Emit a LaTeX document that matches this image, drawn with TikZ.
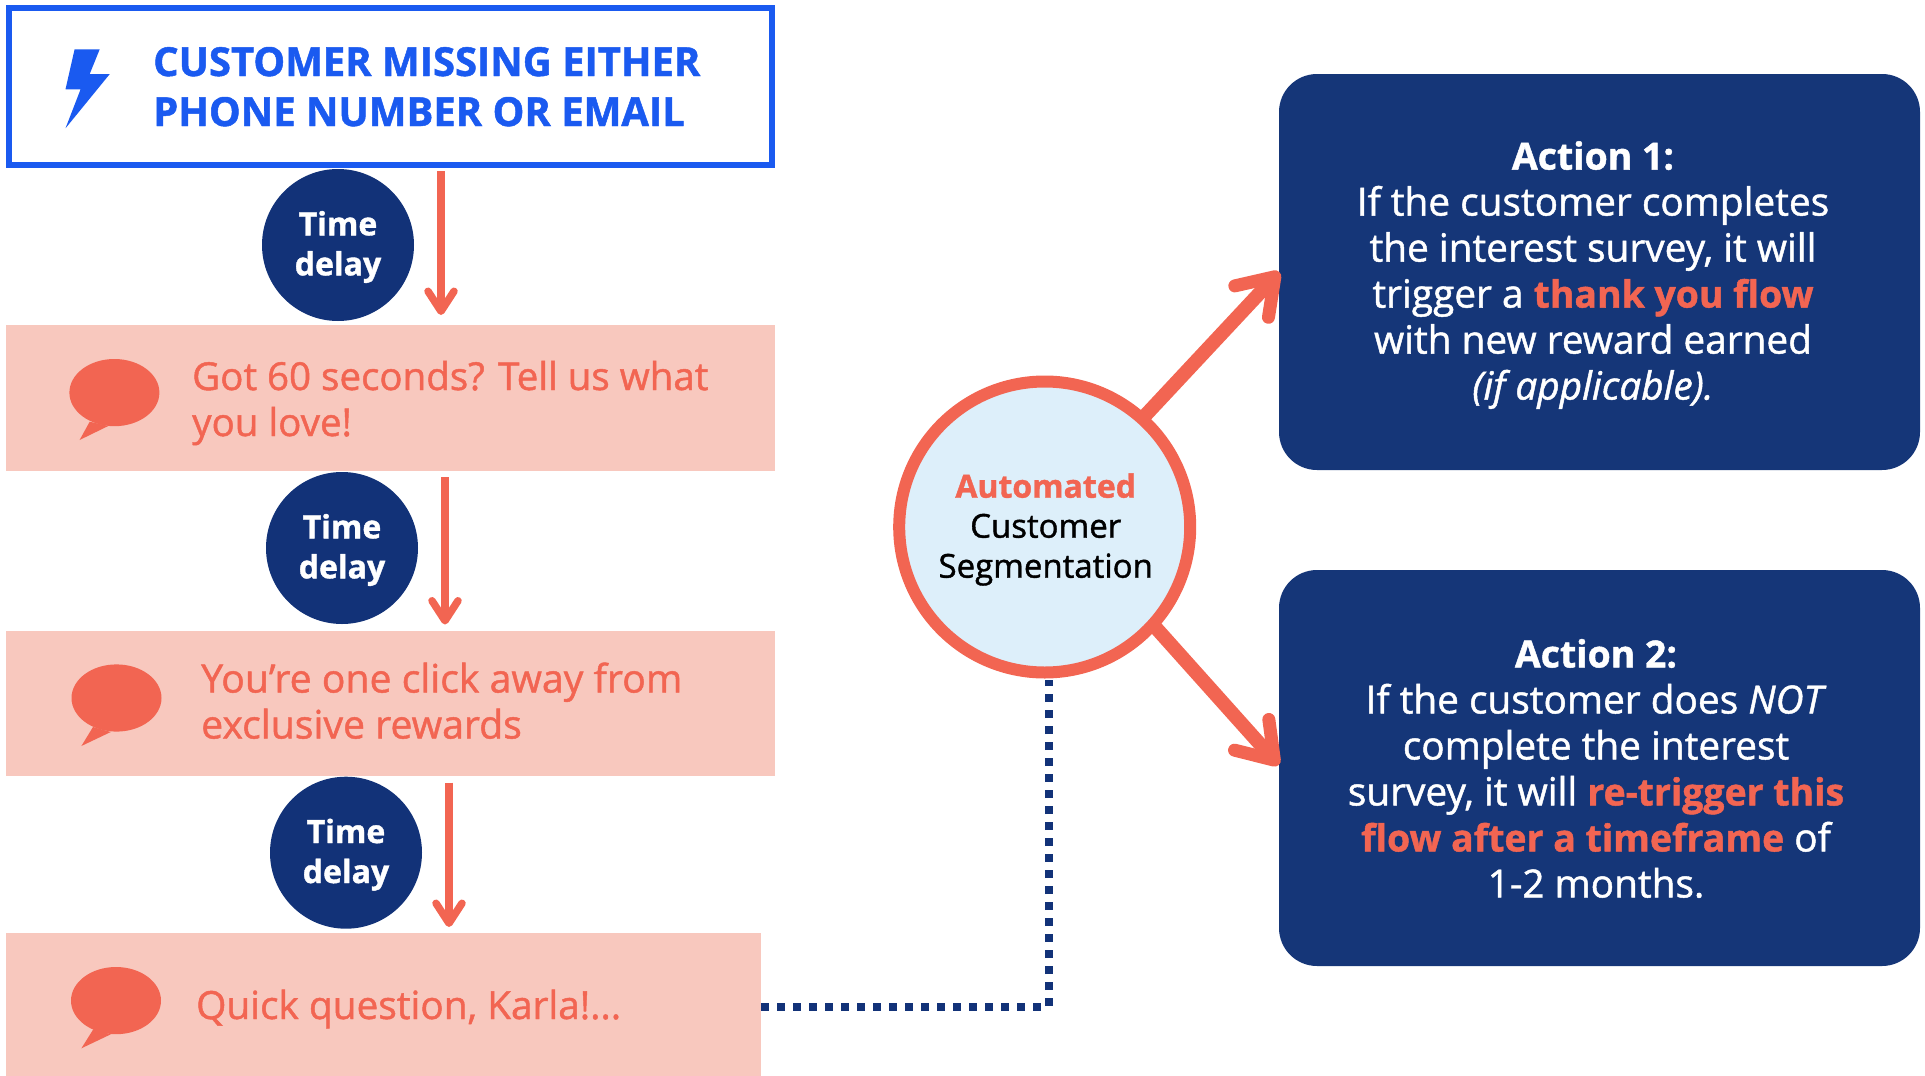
\documentclass[tikz,border=0pt]{standalone}
\usepackage{fontspec}
\setmainfont{Open Sans}[FakeBold=1.2]
\usetikzlibrary{arrows.meta,shapes.geometric}
\definecolor{navy}{HTML}{123278}
\definecolor{actnavy}{HTML}{153678}
\definecolor{coral}{HTML}{F26552}
\definecolor{pinkbg}{HTML}{F8C8BE}
\definecolor{trigblue}{HTML}{1A5AF0}
\definecolor{paleblue}{HTML}{DDEFFA}
\newcommand{\headbit}[1]{{\fontsize{37.4}{46}\selectfont\bfseries #1}}
\newcommand{\hotbit}[1]{\textcolor{coral}{\headbit{#1}}}
\tikzset{
  triggerbox/.style={draw=trigblue,line width=6pt,fill=white,rectangle,inner sep=0pt,outer sep=0pt},
  msgbox/.style={fill=pinkbg,rectangle,inner sep=0pt,outer sep=0pt},
  delaydot/.style={circle,fill=navy,minimum size=152pt,inner sep=0pt},
  delaytext/.style={text=white,inner sep=0pt,align=center,font=\fontsize{32}{40}\selectfont\bfseries},
  msgtext/.style={text=coral,align=left,anchor=base west,inner sep=0pt,font=\fontsize{38.5}{46}\selectfont},
  actionbox/.style={fill=actnavy,rounded corners=38pt,rectangle,inner sep=0pt,outer sep=0pt},
  actiontext/.style={text=white,align=center,inner sep=0pt,font=\fontsize{38.8}{46}\selectfont},
  segcircle/.style={circle,draw=coral,line width=12pt,fill=paleblue,minimum size=291pt,inner sep=0pt,outer sep=0pt},
  segtext/.style={align=center,inner sep=0pt,font=\fontsize{33}{40}\selectfont},
  delayarrow/.style={draw=coral,line width=8pt,-{Straight Barb[length=20pt,width=26pt,round,line width=7.5pt]}},
  bigarrow/.style={draw=coral,line width=14pt,-{Straight Barb[length=34pt,width=46pt,round,line width=13pt]}},
  dotline/.style={draw=navy,line width=8pt,dash pattern=on 8pt off 8pt},
  bubble/.style={fill=coral,draw=none},
}
\newcommand{\speech}[5]{%
  \fill[bubble] (#1,#2) ellipse [x radius=45,y radius=33.6];
  \fill[bubble] (#3) -- (#4) -- (#5) -- cycle;
}
\begin{document}
\begin{tikzpicture}[x=1pt,y=-1pt]
\useasboundingbox (0,0) rectangle (1925,1076);
% trigger
\node[triggerbox,minimum width=763pt,minimum height=157pt] (trigger) at (390.5,86.5) {};
\fill[trigblue] (74.6,49.3) -- (99.7,49.3) -- (89.7,74) -- (109.8,74) -- (65.5,128.3) -- (80.6,89.3) -- (65.5,89.3) -- cycle;
\node[anchor=base west,inner sep=0pt,align=left,text=trigblue,font=\fontsize{40}{50}\selectfont\bfseries] (trigtext) at (153,126) {CUSTOMER MISSING EITHER\\PHONE NUMBER OR EMAIL};
% messages
\node[msgbox,minimum width=769pt,minimum height=146pt] (msg1) at (390.5,398) {};
\node[msgbox,minimum width=769pt,minimum height=145pt] (msg2) at (390.5,703) {};
\node[msgbox,minimum width=755pt,minimum height=143pt] (msg3) at (383.5,1004.5) {};
\speech{114.4}{392.6}{89.7,421.7}{79.6,440}{108.3,426}
\speech{116.5}{698}{93,727}{81.4,746}{110.8,732}
\speech{116}{1000.6}{93.3,1029.3}{81.4,1048.3}{110.8,1034.3}
\node[msgtext] (m1) at (192,436) {Got 60 seconds? Tell us what\\you love!};
\node[msgtext,font=\fontsize{39.2}{46}\selectfont] (m2) at (201,738.5) {You’re one click away from\\exclusive rewards};
\node[msgtext,font=\fontsize{38.8}{46}\selectfont] (m3) at (196,1019) {Quick question, Karla!...};
% delays
\node[delaydot] (d1) at (338,245) {};
\node[delaydot] (d2) at (342,548) {};
\node[delaydot] (d3) at (346,852.7) {};
\node[delaytext] (dt1) at (338,247) {Time\\delay};
\node[delaytext] (dt2) at (342,550) {Time\\delay};
\node[delaytext] (dt3) at (346,854.7) {Time\\delay};
\draw[delayarrow,shorten <=6pt,shorten >=10pt] ([xshift=50.5pt]trigger.south) -- ([xshift=50.5pt]msg1.north);
\draw[delayarrow,shorten <=6pt,shorten >=6pt] ([xshift=54.5pt]msg1.south) -- ([xshift=54.5pt]msg2.north);
\draw[delayarrow,shorten <=7pt,shorten >=6pt] ([xshift=58.5pt]msg2.south) -- ([xshift=65.5pt]msg3.north);
% actions
\node[actionbox,minimum width=641pt,minimum height=396pt] (act1) at (1599.5,272) {};
\node[actionbox,minimum width=641pt,minimum height=396pt] (act2) at (1599.5,768) {};
\node[actiontext] (t1) at (1593,275) {\headbit{Action 1:}\\If the customer completes\\the interest survey, it will\\trigger a \hotbit{thank you flow}\\with new reward earned\\\textit{(if applicable).}};
\node[actiontext] (t2) at (1596,768.5) {\headbit{Action 2:}\\If the customer does \textit{NOT}\\complete the interest\\survey, it will \hotbit{re-trigger this}\\\hotbit{flow after a timeframe} of\\1-2 months.};
% connectors
\coordinate (tipA) at (1279.3,272);
\coordinate (tipB) at (1278.7,765);
\coordinate (dotcorner) at (1048.5,1006.7);
\draw[dotline] (msg3.east|-dotcorner) -- (dotcorner) -- (1048.5,680);
\node[segcircle] (seg) at (1044.7,527) {};
\node[segtext] (segt) at (1045.7,529.5) {\textcolor{coral}{{\fontsize{32}{40}\selectfont\bfseries Automated}}\\Customer\\Segmentation};
\draw[bigarrow] (seg.48) -- (tipA);
\draw[bigarrow] (seg.-42) -- (tipB);
\end{tikzpicture}
\end{document}
